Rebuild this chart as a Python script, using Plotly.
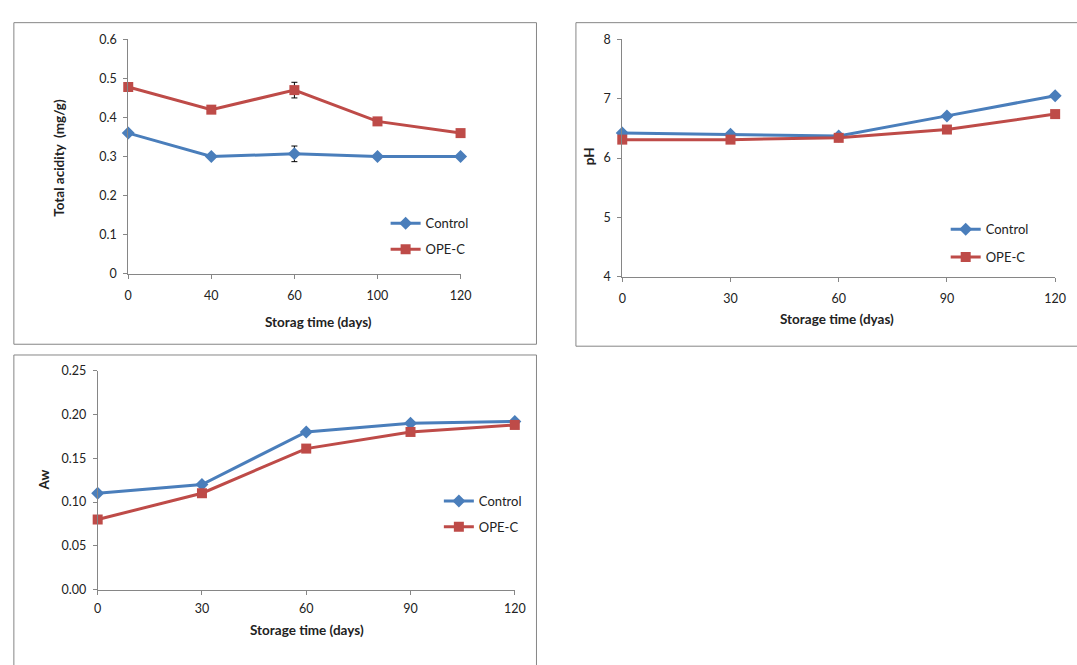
import plotly.graph_objects as go

W, H = 1077, 665

# ---- data ----
acid_days = ["0", "40", "60", "100", "120"]
acid_control = [0.36, 0.30, 0.307, 0.30, 0.30]
acid_opec = [0.478, 0.42, 0.47, 0.39, 0.36]
acid_control_err = [None, None, 0.02, None, None]
acid_opec_err = [None, None, 0.02, None, None]

ph_days = [0, 30, 60, 90, 120]
ph_control = [6.42, 6.40, 6.37, 6.71, 7.05]
ph_opec = [6.31, 6.31, 6.34, 6.48, 6.74]

aw_days = [0, 30, 60, 90, 120]
aw_control = [0.110, 0.120, 0.180, 0.190, 0.192]
aw_opec = [0.080, 0.110, 0.161, 0.180, 0.188]

BLUE = "#4A7EBB"
RED = "#BE4B48"
AXIS = "#868686"
FONT = "Lato, Carlito, Calibri, sans-serif"


def fx(px):
    return px / W


def fy(py):
    return 1 - py / H


fig = go.Figure()


def add_pair(x, yc, yo, xa, ya, leg, ec=None, eo=None):
    kc = dict(x=x, y=yc, name="Control", mode="lines+markers",
              line=dict(color=BLUE, width=3),
              marker=dict(symbol="diamond", size=10, color=BLUE),
              xaxis=xa, yaxis=ya, legend=leg, legendgroup=leg + "c",
              cliponaxis=False)
    ko = dict(x=x, y=yo, name="OPE-C", mode="lines+markers",
              line=dict(color=RED, width=3),
              marker=dict(symbol="square", size=10, color=RED),
              xaxis=xa, yaxis=ya, legend=leg, legendgroup=leg + "o",
              cliponaxis=False)
    if ec is not None:
        kc["error_y"] = dict(type="data", array=ec, visible=True,
                             color="black", thickness=1, width=3)
    if eo is not None:
        ko["error_y"] = dict(type="data", array=eo, visible=True,
                             color="black", thickness=1, width=3)
    fig.add_trace(go.Scatter(**kc))
    fig.add_trace(go.Scatter(**ko))


add_pair(acid_days, acid_control, acid_opec, "x", "y", "legend",
         acid_control_err, acid_opec_err)
add_pair(ph_days, ph_control, ph_opec, "x2", "y2", "legend2")
add_pair(aw_days, aw_control, aw_opec, "x3", "y3", "legend3")

tickfont = dict(family=FONT, size=12.5, color="#222222")
common = dict(showline=True, linecolor=AXIS, linewidth=1, ticks="outside",
              ticklen=4, tickcolor=AXIS, showgrid=False, zeroline=False,
              tickfont=tickfont, fixedrange=True)

fig.update_layout(
    width=W, height=H,
    margin=dict(l=0, r=0, t=0, b=0),
    paper_bgcolor="white", plot_bgcolor="white",
    font=dict(family=FONT, size=12, color="#222222"),
    xaxis=dict(common, domain=[fx(126), fx(463)], type="category",
               range=[0, 4], anchor="y", ticklabelstandoff=6),
    yaxis=dict(common, domain=[fy(272), fy(32)], range=[0, 0.6],
               dtick=0.1, tickformat="~g", anchor="x", ticklabelstandoff=4),
    xaxis2=dict(common, domain=[fx(627), fx(1066)], range=[0, 120],
                tickvals=ph_days, anchor="y2", ticklabelstandoff=6),
    yaxis2=dict(common, domain=[fy(275), fy(32)], range=[4, 8],
                dtick=1, anchor="x2", ticklabelstandoff=4),
    xaxis3=dict(common, domain=[fx(95), fx(518)], range=[0, 120],
                tickvals=aw_days, anchor="y3", ticklabelstandoff=3),
    yaxis3=dict(common, domain=[fy(595), fy(371)], range=[0, 0.25],
                dtick=0.05, tickformat=".2f", anchor="x3", ticklabelstandoff=4),
    legend=dict(x=fx(387), y=fy(205), xanchor="left", yanchor="top",
                bgcolor="rgba(0,0,0,0)", tracegroupgap=6,
                font=dict(family=FONT, size=13, color="#222222")),
    legend2=dict(x=fx(955), y=fy(211), xanchor="left", yanchor="top",
                 bgcolor="rgba(0,0,0,0)", tracegroupgap=8,
                 font=dict(family=FONT, size=13, color="#222222")),
    legend3=dict(x=fx(441), y=fy(489), xanchor="left", yanchor="top",
                 bgcolor="rgba(0,0,0,0)", tracegroupgap=6,
                 font=dict(family=FONT, size=13, color="#222222")),
    showlegend=True,
)

# panel borders
for x0, y0, x1, y1 in [(10, 15, 540, 344), (580, 15, 1090, 346),
                       (10, 355, 540, 680)]:
    fig.add_shape(type="rect", xref="paper", yref="paper",
                  x0=fx(x0), x1=fx(x1), y0=fy(y1), y1=fy(y0),
                  line=dict(color=AXIS, width=1), fillcolor="rgba(0,0,0,0)",
                  layer="below")

title_font = dict(family=FONT, size=13.5, color="#222222")
annos = [
    ("<b>Total acidity  (mg/g)</b>", 55, 153, -90),
    ("<b>Storag time (days)</b>", 319, 321, 0),
    ("<b>pH</b>", 593, 152, -90),
    ("<b>Storage time (dyas)</b>", 845, 318, 0),
    ("<b>Aw</b>", 41, 483, -90),
    ("<b>Storage time (days)</b>", 307, 636, 0),
]
for text, x, y, ang in annos:
    fig.add_annotation(text=text, xref="paper", yref="paper",
                       x=fx(x), y=fy(y), xanchor="center", yanchor="middle",
                       showarrow=False, textangle=ang, font=title_font)

fig.write_html("out.html")
